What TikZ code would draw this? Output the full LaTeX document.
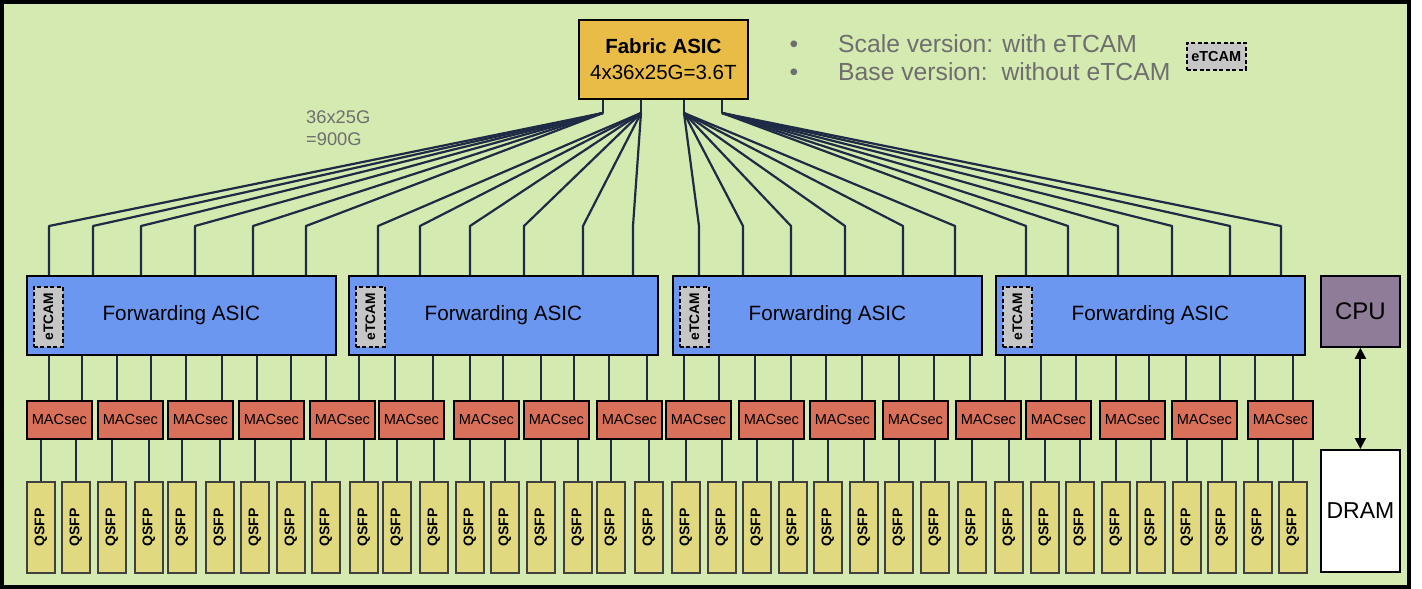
\documentclass[tikz,border=0pt]{standalone}
\usepackage{fontspec}
\setmainfont{Liberation Sans}
\usepackage{graphicx}
\usetikzlibrary{arrows.meta}
\definecolor{bggreen}{HTML}{D4EAB1}
\definecolor{asicblue}{HTML}{6B97F1}
\definecolor{fabgold}{HTML}{E9BC48}
\definecolor{macred}{HTML}{D9715A}
\definecolor{qsfpyel}{HTML}{E1D97F}
\definecolor{cpupurp}{HTML}{8E7C98}
\definecolor{tcamgray}{HTML}{C6C6C6}
\definecolor{navy}{HTML}{1F2A44}
\definecolor{txtgray}{HTML}{6E6E6E}
\tikzset{
  boxbase/.style={draw=black, line width=1.8pt, inner sep=0pt, anchor=north west},
  fabricbox/.style={boxbase, fill=fabgold, minimum width=169pt, minimum height=79pt, align=center, font=\fontsize{20.5pt}{26pt}\selectfont},
  asicbox/.style={boxbase, fill=asicblue, minimum width=309pt, minimum height=79pt, font=\fontsize{20.7pt}{24pt}\selectfont},
  tcambox/.style={draw=black, line width=1.5pt, dash pattern=on 4pt off 2.5pt, fill=tcamgray, inner sep=0pt, anchor=north west, minimum width=29pt, minimum height=60pt, font=\bfseries\fontsize{13.8pt}{16pt}\selectfont},
  macbox/.style={boxbase, fill=macred, minimum width=65pt, minimum height=38pt, font=\fontsize{14.6pt}{16pt}\selectfont},
  qsfpbox/.style={draw=black!75, line width=1.6pt, inner sep=0pt, anchor=north west, fill=qsfpyel, minimum width=28pt, minimum height=91pt, font=\bfseries\fontsize{14pt}{16pt}\selectfont},
  sidebox/.style={boxbase, minimum width=79pt, font=\fontsize{24pt}{28pt}\selectfont},
  link/.style={draw=navy, line width=2.2pt, line join=round},
  legendtxt/.style={inner sep=0pt, text=txtgray, font=\fontsize{24.7pt}{28pt}\selectfont},
  captxt/.style={inner sep=0pt, anchor=base west, text=txtgray, font=\fontsize{18.3pt}{22pt}\selectfont},
}
\begin{document}
\begin{tikzpicture}[x=1pt,y=-1pt]
\useasboundingbox (0,0) rectangle (1422,589);
\fill[white] (0,0) rectangle (1422,589);
\draw[line width=4pt, fill=bggreen] (1.5,1.5) rectangle (1409,587);

% Fabric ASIC
\node[fabricbox] (fab) at (578,19) {{\bfseries Fabric ASIC}\\4x36x25G=3.6T};
\foreach \i/\x in {1/603,2/641,3/684,4/722} \coordinate (f\i) at (\x,113);
\foreach \i in {1,...,4} \draw[link] (f\i |- fab.south) -- (f\i);

% legend
\node[legendtxt, anchor=base] (bul1) at (794,52.5) {\textbullet};
\node[legendtxt, anchor=base] (bul2) at (794,80) {\textbullet};
\node[legendtxt, anchor=base west] (leg1) at (838,52.5) {Scale version: with eTCAM};
\node[legendtxt, anchor=base west] (leg2) at (838,80) {Base version:\ \ without eTCAM};
\node[tcambox, minimum width=59pt, minimum height=27pt, font=\bfseries\fontsize{14.5pt}{16pt}\selectfont] (tcamL) at (1186,42) {eTCAM};

% capacity label
\node[captxt] (cap1) at (306,123) {36x25G};
\node[captxt] (cap2) at (306,145) {=900G};

% Forwarding ASICs
\foreach \i/\x in {1/26,2/348,3/672,4/995} {
  \node[asicbox] (asic\i) at (\x,275) {Forwarding ASIC};
  \node[tcambox] (tcam\i) at (\x+7,286) {\rotatebox{90}{eTCAM}};
}

% fan-out from fabric
\foreach \x [count=\k] in {49,93,141,195,253,306,378,420,470,524,583,633,699,743,791,845,903,955,1026,1068,1118,1172,1230,1281} {
  \pgfmathtruncatemacro\a{int((\k-1)/6)+1}
  \coordinate (b\k) at (\x,226);
  \draw[link] (f\a) -- (b\k) -- (b\k |- asic\a.north);
}

% MACsec
\foreach \x [count=\m] in {26,97,167,238,309,378,453,523,596,665,738,809,882,955,1025,1099,1171,1247}
  \node[macbox] (mac\m) at (\x,400) {MACsec};

\foreach \x [count=\k] in {49,82,117,151,186,222,257,291,326,359,395,433,470,503,541,574,609,647,684,719,755,791,826,862,899,934,970,1005,1041,1076,1116,1149,1186,1220,1255,1293} {
  \pgfmathtruncatemacro\a{int((\k-1)/9)+1}
  \pgfmathtruncatemacro\m{int((\k-1)/2)+1}
  \coordinate (d\k) at (\x,377);
  \draw[link] (d\k |- asic\a.south) -- (d\k |- mac\m.north);
}

% QSFP
\foreach \x [count=\k] in {26,61,97,134,167,205,240,276,311,349,382,419,455,490,526,563,596,634,671,707,742,778,813,849,884,920,957,994,1030,1065,1101,1136,1172,1207,1243,1278} {
  \pgfmathtruncatemacro\m{int((\k-1)/2)+1}
  \node[qsfpbox] (q\k) at (\x,481) {\rotatebox{90}{QSFP}};
  \draw[link] (q\k.north |- mac\m.south) -- (q\k.north);
}

% CPU / DRAM
\node[sidebox, fill=cpupurp, minimum height=71pt] (cpu) at (1320,275) {CPU};
\node[sidebox, fill=white, minimum height=122pt, font=\fontsize{23pt}{28pt}\selectfont] (dram) at (1320,449) {DRAM};
\draw[line width=2pt, {Triangle[length=11pt,width=11pt]}-{Triangle[length=11pt,width=11pt]}] (cpu.south) -- (dram.north);
\end{tikzpicture}
\end{document}
